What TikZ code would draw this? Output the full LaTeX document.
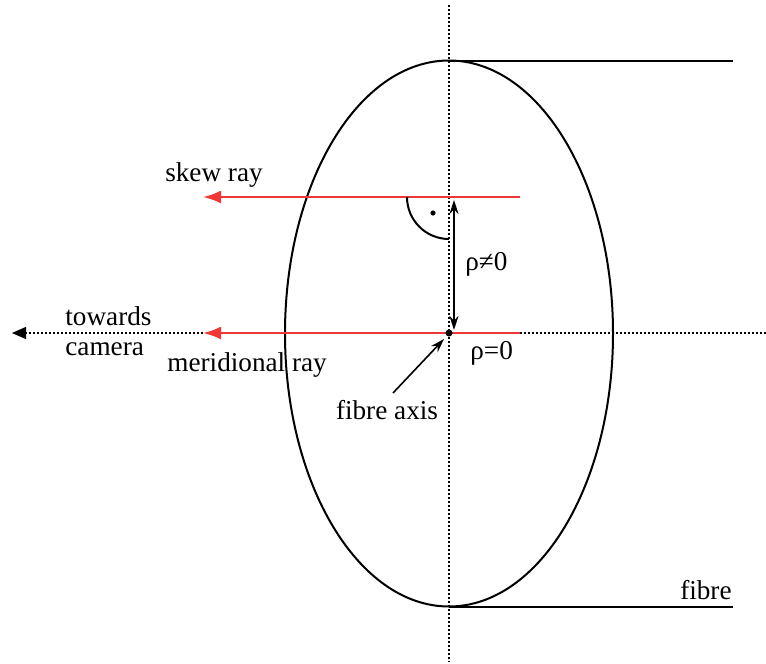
\documentclass[tikz,border=0pt]{standalone}
\usepackage{fontspec}
\setmainfont{Liberation Serif}
\newfontfamily\timesfont{Liberation Serif}
\usetikzlibrary{arrows.meta,shapes.geometric}
\definecolor{rayred}{RGB}{240,55,55}
\begin{document}
\begin{tikzpicture}[x=0.5pt,y=-0.5pt,
  lbl/.style={font=\timesfont\fontsize{13.6}{16}\selectfont, inner sep=0pt},
  axisline/.style={line width=0.7pt, dash pattern=on 1pt off 1pt},
  solidline/.style={line width=1pt},
  ray/.style={rayred, line width=1.1pt, -{Latex[length=9pt,width=6.5pt]}},
  thinarrow/.style={line width=0.8pt}
]
\useasboundingbox (0,0) rectangle (766,664);
% coordinates
\coordinate (vtop) at (449,5);
\coordinate (vbot) at (449,662);
\coordinate (hright) at (766,333);
\coordinate (hleft) at (12,333);
\coordinate (c) at (449,333);
\coordinate (ftop) at (449,61);
\coordinate (fbot) at (449,607);
\coordinate (ftopR) at (733,61);
\coordinate (fbotR) at (733,607);
\coordinate (skewS) at (520,197);
\coordinate (skewE) at (203,197);
\coordinate (merS) at (520,333);
\coordinate (merE) at (203,333);
\coordinate (rhoTop) at (454,200);
\coordinate (rhoBot) at (454,330);
\coordinate (axTail) at (393,393);
\coordinate (axTip) at (444,339);
\coordinate (arcS) at (407,197);
% fibre cross-section
\node[ellipse, draw, solidline, minimum width=164pt, minimum height=273pt, inner sep=0pt] (fibre) at (449,333.5) {};
% axes
\draw[axisline] (vtop) -- (vbot);
\draw[axisline] (hright) -- (c);
\draw[axisline, -{Triangle[length=7pt,width=6pt]}] (merE) -- (hleft);
% fibre outline lines
\draw[solidline] (ftop) -- (ftopR);
\draw[solidline] (fbot) -- (fbotR);
% rays
\draw[ray] (skewS) -- (skewE);
\draw[ray] (merS) -- (merE);
% right angle mark
\draw[solidline] (arcS) arc[start angle=180, end angle=90, radius=42];
\fill (433,213) circle[radius=2.6];
% rho arrow
\draw[thinarrow, {Stealth[length=7pt,width=4.5pt]}-{Stealth[length=7pt,width=4.5pt]}] (rhoTop) -- (rhoBot);
% centre dot
\fill (c) circle[radius=3.5];
% fibre axis arrow
\draw[thinarrow, -{Stealth[length=7pt,width=4.5pt]}] (axTail) -- (axTip);
% labels
\node[lbl] (skew) at (214,175) {skew ray};
\node[lbl, anchor=west] (tow) at (65,316) {towards};
\node[lbl, anchor=west] (cam) at (65,349) {camera};
\node[lbl, anchor=west] (mer) at (167,365) {meridional ray};
\node[lbl] (fax) at (387,410) {fibre axis};
\node[lbl, anchor=east] (fib) at (732,590) {fibre};
\node[lbl, anchor=west] (rhone) at (465,264) {ρ≠0};
\node[lbl, anchor=west] (rhoz) at (470,353) {ρ=0};
\end{tikzpicture}
\end{document}
